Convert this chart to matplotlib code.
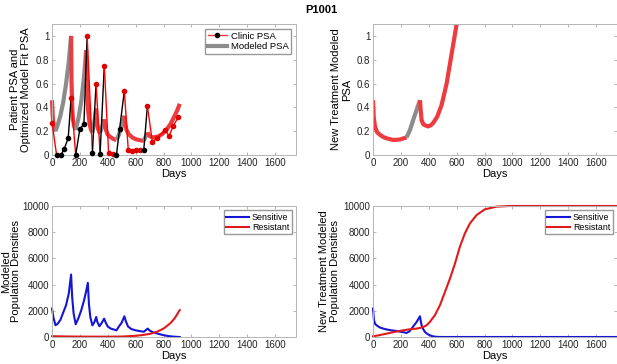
import matplotlib.pyplot as plt

plt.rcParams['font.family'] = ['Liberation Sans', 'DejaVu Sans']

# clinic psa (patient P1001)
clinic_days = [0, 33, 64, 87, 116, 137, 170, 200, 229, 252, 290, 316, 345, 375, 406, 437,
               462, 485, 519, 547, 575, 604, 632, 658, 684, 720, 752, 811, 840, 868, 906]
clinic_psa = [0.27, 0.0, 0.0, 0.05, 0.14, 0.48, 0.0, 0.22, 0.26, 1.0, 0.02, 0.60, 0.01, 0.75, 0.02, 0.01,
              0.0, 0.22, 0.54, 0.04, 0.035, 0.045, 0.045, 0.04, 0.41, 0.11, 0.14, 0.21, 0.16, 0.24, 0.32]
clinic_on = [1, 0, 0, 0, 0, 1, 0, 0, 0, 1, 0, 1, 0, 1, 1, 1,
             0, 0, 1, 1, 1, 1, 1, 0, 1, 1, 1, 1, 1, 1, 1]

# modeled psa fit
fit_days = [0, 5, 10, 15, 20, 25, 40, 60, 80, 100, 120, 137, 140, 145, 150, 160, 170, 190, 210, 230, 245,
            250, 255, 260, 270, 280, 290, 300, 310, 316, 320, 325, 330, 340, 345, 355, 365, 375, 380, 390,
            400, 420, 440, 462, 480, 500, 519, 525, 535, 550, 575, 600, 630, 658, 670, 684, 695, 710, 730,
            760, 790, 820, 850, 880, 900, 916]
fit_psa = [0.46, 0.33, 0.26, 0.23, 0.21, 0.20, 0.25, 0.33, 0.44, 0.59, 0.78, 1.00, 0.62, 0.40, 0.30, 0.24, 0.21,
           0.31, 0.45, 0.66, 0.88, 0.64, 0.47, 0.36, 0.26, 0.21, 0.19, 0.25, 0.33, 0.39, 0.30, 0.25, 0.22,
           0.19, 0.19, 0.22, 0.26, 0.30, 0.24, 0.20, 0.17, 0.15, 0.135, 0.125, 0.17, 0.24, 0.33, 0.26, 0.21,
           0.175, 0.148, 0.133, 0.124, 0.12, 0.15, 0.19, 0.165, 0.152, 0.148, 0.155, 0.175, 0.21, 0.26, 0.33,
           0.38, 0.43]
fit_off = [(25, 137), (170, 245), (290, 316), (345, 375), (462, 519), (658, 684)]

# new treatment psa
new_days = [0, 5, 14, 30, 50, 75, 98, 146, 193, 241, 265, 290, 310, 325, 337, 343, 349, 360, 372, 396,
            415, 432, 460, 492, 528, 564, 600, 620]
new_psa = [0.46, 0.32, 0.24, 0.19, 0.17, 0.15, 0.14, 0.126, 0.13, 0.148, 0.21, 0.30, 0.37, 0.42, 0.46, 0.36,
           0.29, 0.26, 0.25, 0.24, 0.25, 0.27, 0.32, 0.42, 0.60, 0.85, 1.10, 1.28]
new_off = [(241, 337)]

# populations, fitted schedule
pop_days = [0, 10, 25, 40, 60, 80, 100, 120, 137, 145, 155, 170, 190, 210, 230, 245, 257, 265, 275, 290,
            305, 317, 325, 340, 355, 374, 385, 400, 420, 440, 462, 480, 500, 519, 530, 545, 570, 600, 630,
            659, 672, 686, 700, 720, 742, 770, 800, 830, 860, 890, 916]
sens = [2170, 1500, 900, 1000, 1300, 1850, 2400, 3300, 4770, 3000, 1800, 970, 1450, 2050, 2800, 3500, 4130,
        2500, 1500, 890, 1150, 1530, 1150, 820, 1050, 1400, 1100, 800, 650, 580, 510, 800, 1100, 1580, 1200,
        800, 600, 510, 450, 400, 520, 640, 500, 380, 310, 220, 140, 80, 40, 15, 0]
res_days = [0, 100, 200, 300, 400, 500, 600, 650, 700, 750, 800, 850, 880, 916]
res = [60, 40, 30, 25, 25, 35, 90, 150, 235, 390, 640, 1060, 1430, 2050]

# populations, new treatment
nsens_days = [0, 7, 15, 26, 50, 74, 100, 130, 170, 210, 241, 260, 277, 295, 313, 337, 343, 349, 360, 373,
              390, 408, 430, 456, 500, 1750]
nsens = [2170, 1280, 1000, 890, 720, 640, 570, 510, 460, 380, 310, 420, 640, 900, 1150, 1580, 1200, 890, 600,
         380, 230, 130, 50, 10, 0, 0]
nres_days = [0, 50, 98, 150, 217, 270, 313, 340, 373, 390, 408, 425, 444, 460, 480, 516, 552, 588, 623, 659,
             695, 743, 802, 886, 981, 1100, 1750]
nres = [50, 150, 255, 380, 510, 600, 640, 700, 820, 950, 1150, 1400, 1660, 2000, 2420, 3440, 4460, 5610, 6890,
        7910, 8670, 9310, 9745, 9950, 10000, 10000, 10000]

RED = '#ee3b3f'
GRAY = '#8c8c8c'


def split_runs(x, y, off):
    # group consecutive segments into on/off runs
    state = []
    for i in range(len(x) - 1):
        m = (x[i] + x[i + 1]) / 2
        state.append(any(a <= m <= b for a, b in off))
    runs = []
    s = 0
    for i in range(1, len(state) + 1):
        if i == len(state) or state[i] != state[s]:
            runs.append((x[s:i + 1], y[s:i + 1], state[s]))
            s = i
    return runs


def style(ax, ylim, yticks):
    ax.set_xlim(0, 1750)
    ax.set_ylim(*ylim)
    ax.set_xticks(range(0, 1601, 200))
    ax.set_yticks(yticks)
    ax.tick_params(direction='in', length=2.5, width=0.6, labelsize=7, top=True, right=True,
                   colors='#aaaaaa', labelcolor='#222222', pad=2)
    for sp in ax.spines.values():
        sp.set_color('#b5b5b5')
        sp.set_linewidth(0.7)
    ax.set_xlabel('Days', fontsize=8, labelpad=1)


fig = plt.figure(figsize=(6.17, 3.64), dpi=100)
W = 244 / 617
H = 131 / 364
ax1 = fig.add_axes([52 / 617, 1 - 155 / 364, W, H])
ax2 = fig.add_axes([373 / 617, 1 - 155 / 364, W, H])
ax3 = fig.add_axes([52 / 617, 1 - 337 / 364, W, H])
ax4 = fig.add_axes([373 / 617, 1 - 337 / 364, W, H])

# top left
for xs, ys, off in split_runs(fit_days, fit_psa, fit_off):
    ax1.plot(xs, ys, color=GRAY if off else RED, lw=3, solid_capstyle='butt', zorder=2, clip_on=False)
for i in range(len(clinic_days) - 1):
    ax1.plot(clinic_days[i:i + 2], clinic_psa[i:i + 2], color='red' if clinic_on[i] else 'black', lw=1,
             zorder=3, clip_on=False)
for d, p, on in zip(clinic_days, clinic_psa, clinic_on):
    ax1.plot(d, p, 'o', ms=3, color='#e00000' if on else 'black', zorder=4, clip_on=False)
h1, = ax1.plot([], [], color=RED, lw=1, marker='o', ms=3, mfc='black', mec='black')
h2, = ax1.plot([], [], color=GRAY, lw=3)
ax1.legend([h1, h2], ['Clinic PSA', 'Modeled PSA'], loc='upper right', fontsize=6.8, fancybox=False,
           edgecolor='#999999', handlelength=2.0, borderpad=0.3, labelspacing=0.2, handletextpad=0.4,
           borderaxespad=0.5, framealpha=1)
style(ax1, (0, 1.1), [0, 0.2, 0.4, 0.6, 0.8, 1])
ax1.set_yticklabels(['0', '0.2', '0.4', '0.6', '0.8', '1'])
ax1.set_ylabel('Patient PSA and\nOptimized Model Fit PSA', fontsize=8, labelpad=3.5, linespacing=1.1)

# top right
for xs, ys, off in split_runs(new_days, new_psa, new_off):
    ax2.plot(xs, ys, color=GRAY if off else RED, lw=3, solid_capstyle='butt')
style(ax2, (0, 1.1), [0, 0.2, 0.4, 0.6, 0.8, 1])
ax2.set_yticklabels(['0', '0.2', '0.4', '0.6', '0.8', '1'])
ax2.set_ylabel('New Treatment Modeled\nPSA', fontsize=8, labelpad=3.5, linespacing=1.1)

# bottom left
ax3.plot(pop_days, sens, color='#1515d5', lw=1.5, label='Sensitive', clip_on=False)
ax3.plot(res_days, res, color='#e01a1a', lw=1.5, label='Resistant', clip_on=False)
style(ax3, (0, 10000), range(0, 10001, 2000))
ax3.set_ylabel('Modeled\nPopulation Densities', fontsize=8, labelpad=1, linespacing=1.0)
ax3.legend(loc='upper right', fontsize=6.4, fancybox=False, edgecolor='#999999', handlelength=2.6,
           borderpad=0.25, labelspacing=0.15, handletextpad=0.3, borderaxespad=0.5, framealpha=1)

# bottom right
ax4.plot(nsens_days, nsens, color='#1515d5', lw=1.5, label='Sensitive', clip_on=False)
ax4.plot(nres_days, nres, color='#e01a1a', lw=1.5, label='Resistant', clip_on=False)
style(ax4, (0, 10000), range(0, 10001, 2000))
ax4.set_ylabel('New Treatment Modeled\nPopulation Densities', fontsize=8, labelpad=2.5, linespacing=1.1)
ax4.legend(loc='upper right', fontsize=6.4, fancybox=False, edgecolor='#999999', handlelength=2.6,
           borderpad=0.25, labelspacing=0.15, handletextpad=0.3, borderaxespad=0.5, framealpha=1)

fig.text(0.52, 0.985, 'P1001', fontsize=8, fontweight='bold', ha='center', va='top')

fig.savefig('out.png', dpi=100)
